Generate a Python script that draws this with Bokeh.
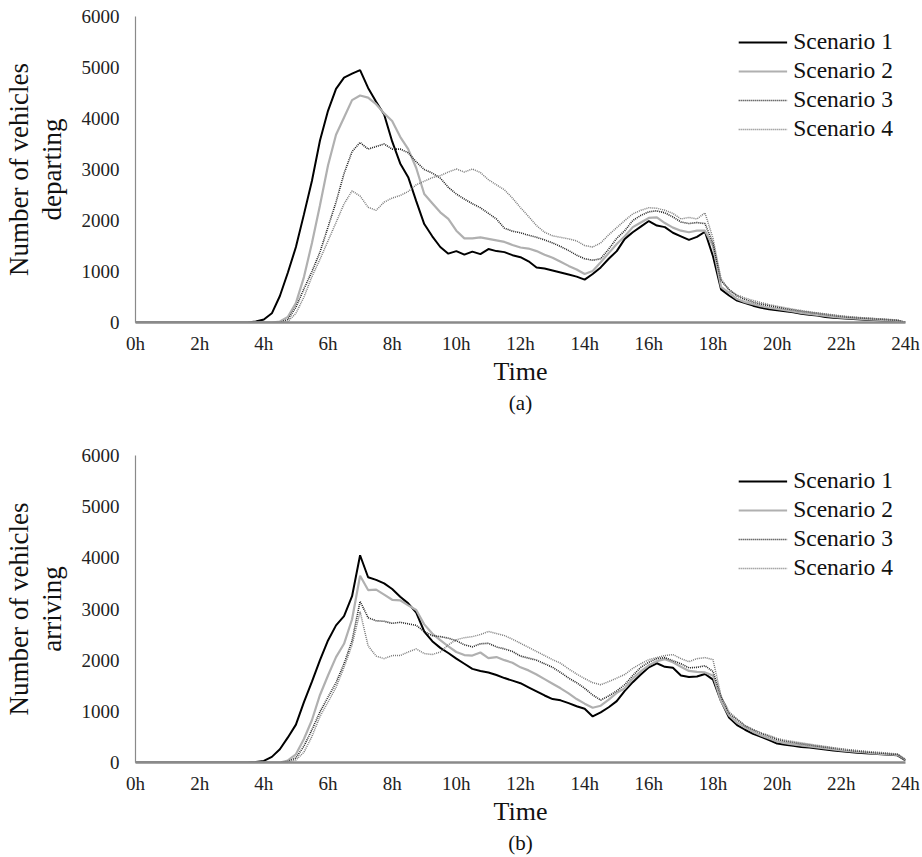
from bokeh.plotting import figure
from bokeh.layouts import column
from bokeh.models import FixedTicker, Title
from bokeh.embed import file_html
from bokeh.resources import INLINE

# time axis: quarter-hour steps 0h..24h
hours = [i / 4 for i in range(97)]
tick_hours = [0, 2, 4, 6, 8, 10, 12, 14, 16, 18, 20, 22, 24]
tick_labels = ["0h", "2h", "4h", "6h", "8h", "10h", "12h", "14h", "16h", "18h", "20h", "22h", "24h"]
y_ticks = [0, 1000, 2000, 3000, 4000, 5000, 6000]
scenario_names = ["Scenario 1", "Scenario 2", "Scenario 3", "Scenario 4"]

# (a) departing
dep_s1 = [0, 0, 0, 0,  0, 0, 0, 0,  0, 0, 0, 0,  0, 0, 0, 20,
          60, 180, 520, 980,  1480, 2120, 2780, 3570,  4150, 4580, 4800, 4880,
          4950, 4600, 4330, 4080,  3550, 3120, 2850, 2380,  1930, 1690, 1480, 1350,
          1400, 1330, 1390, 1340,  1440, 1400, 1380, 1320,  1280, 1200, 1080, 1060,
          1020, 980, 940, 900,  840, 950, 1080, 1250,  1400, 1640, 1770, 1880,
          1990, 1900, 1870, 1760,  1690, 1620, 1680, 1780,  1300, 650, 530, 430,
          380, 330, 290, 260,  240, 220, 200, 170,  150, 135, 110, 95,
          85, 75, 65, 55,  50, 40, 35, 25,  0]
dep_s2 = [0, 0, 0, 0,  0, 0, 0, 0,  0, 0, 0, 0,  0, 0, 0, 0,
          0, 0, 20, 110,  380, 890, 1560, 2300,  3080, 3680, 4020, 4360,
          4450, 4410, 4280, 4100,  3950, 3640, 3400, 3030,  2520, 2340, 2160, 2030,
          1800, 1650, 1650, 1670,  1640, 1610, 1580, 1520,  1470, 1450, 1400, 1330,
          1270, 1190, 1110, 1040,  950, 1010, 1180, 1360,  1540, 1690, 1870, 1960,
          2050, 2060, 1950, 1860,  1800, 1770, 1800, 1800,  1500, 700, 580, 460,
          400, 360, 320, 290,  265, 240, 215, 190,  170, 150, 130, 110,
          95, 85, 75, 65,  55, 50, 40, 30,  0]
dep_s3 = [0, 0, 0, 0,  0, 0, 0, 0,  0, 0, 0, 0,  0, 0, 0, 0,
          0, 0, 0, 60,  300, 660, 1000, 1380,  1870, 2360, 2920, 3350,
          3530, 3400, 3450, 3500,  3400, 3400, 3330, 3150,  3000, 2930, 2830, 2650,
          2520, 2420, 2330, 2250,  2140, 2030, 1850, 1790,  1760, 1710, 1670, 1620,
          1560, 1490, 1410, 1320,  1250, 1220, 1250, 1440,  1650, 1800, 2000, 2100,
          2170, 2190, 2150, 2070,  1970, 1940, 1960, 1940,  1550, 820, 650, 520,
          450, 400, 360, 330,  300, 270, 245, 220,  200, 180, 160, 140,
          120, 105, 95, 85,  75, 65, 55, 45,  0]
dep_s4 = [0, 0, 0, 0,  0, 0, 0, 0,  0, 0, 0, 0,  0, 0, 0, 0,
          0, 0, 0, 20,  180, 500, 900, 1240,  1600, 1960, 2326, 2580,
          2480, 2260, 2200, 2360,  2440, 2490, 2570, 2700,  2770, 2840, 2880, 2950,
          3010, 2950, 3010, 2940,  2800, 2700, 2600, 2440,  2250, 2080, 1900, 1770,
          1700, 1670, 1640, 1600,  1510, 1480, 1560, 1720,  1860, 2000, 2130, 2200,
          2250, 2240, 2200, 2140,  2030, 2060, 2030, 2150,  1650, 860, 630, 540,
          480, 430, 390, 350,  320, 290, 260, 235,  210, 190, 170, 150,
          130, 115, 100, 90,  80, 70, 60, 50,  0]

# (b) arriving
arr_s1 = [0, 0, 0, 0,  0, 0, 0, 0,  0, 0, 0, 0,  0, 0, 0, 10,
          30, 110, 260, 490,  740, 1180, 1580, 2000,  2385, 2680, 2860, 3250,
          4050, 3620, 3570, 3500,  3390, 3240, 3110, 2930,  2560, 2370, 2240, 2140,
          2030, 1930, 1830, 1790,  1760, 1710, 1650, 1600,  1550, 1470, 1390, 1310,
          1240, 1215, 1160, 1100,  1050, 900, 980, 1080,  1200, 1400, 1570, 1720,
          1860, 1940, 1870, 1850,  1700, 1670, 1680, 1730,  1620, 1200, 880, 730,
          640, 560, 500, 440,  370, 345, 325, 305,  295, 275, 255, 235,
          220, 205, 190, 180,  170, 160, 150, 140,  40]
arr_s2 = [0, 0, 0, 0,  0, 0, 0, 0,  0, 0, 0, 0,  0, 0, 0, 0,
          0, 0, 0, 40,  160, 460, 830, 1320,  1700, 2060, 2320, 2800,
          3650, 3370, 3380, 3280,  3180, 3170, 3070, 2980,  2700, 2520, 2390, 2270,
          2160, 2100, 2090, 2150,  2040, 2060, 2000, 1950,  1860, 1800, 1720, 1630,
          1540, 1450, 1350, 1240,  1150, 1070, 1110, 1230,  1360, 1450, 1640, 1780,
          1900, 1980, 2020, 1960,  1870, 1790, 1770, 1760,  1700, 1200, 920, 780,
          690, 600, 530, 470,  410, 380, 355, 335,  315, 295, 275, 255,
          235, 220, 205, 195,  180, 170, 160, 150,  50]
arr_s3 = [0, 0, 0, 0,  0, 0, 0, 0,  0, 0, 0, 0,  0, 0, 0, 0,
          0, 0, 0, 20,  90, 320, 640, 990,  1277, 1560, 1930, 2380,
          3150, 2830, 2770, 2760,  2720, 2740, 2710, 2680,  2560, 2480, 2460, 2430,
          2380, 2300, 2260, 2320,  2330, 2260, 2220, 2170,  2080, 2040, 2000, 1930,
          1860, 1760, 1650, 1560,  1450, 1320, 1220, 1300,  1400, 1520, 1700, 1860,
          1960, 2030, 2050, 1990,  1930, 1850, 1860, 1890,  1780, 1290, 960, 840,
          720, 640, 570, 510,  450, 415, 390, 365,  345, 320, 300, 280,
          260, 240, 225, 210,  195, 185, 170, 160,  50]
arr_s4 = [0, 0, 0, 0,  0, 0, 0, 0,  0, 0, 0, 0,  0, 0, 0, 0,
          0, 0, 0, 10,  50, 200, 510, 900,  1180, 1470, 1860, 2300,
          2950, 2280, 2080, 2030,  2090, 2090, 2160, 2220,  2130, 2110, 2160, 2300,
          2400, 2440, 2460, 2500,  2560, 2520, 2480, 2410,  2330, 2250, 2170, 2090,
          2010, 1940, 1830, 1730,  1640, 1560, 1520, 1580,  1650, 1720, 1840, 1930,
          2010, 2050, 2090, 2110,  2030, 1970, 2030, 2050,  2010, 1300, 990, 850,
          720, 640, 580, 530,  470, 435, 410, 385,  360, 335, 315, 290,
          270, 250, 235, 220,  205, 195, 180, 165,  60]

FONT = "Liberation Serif"
styles = [
    dict(line_color="#000000", line_width=2.0),
    dict(line_color="#b0b0b0", line_width=2.2),
    dict(line_color="#222222", line_width=1.6, line_dash="1 1"),
    dict(line_color="#7a7a7a", line_width=1.5, line_dash="1 1"),
]


def make_panel(series, ylabel, tag, height, top, bottom):
    p = figure(width=922, height=height, x_range=(0, 24), y_range=(0, 6000),
               output_backend="svg", toolbar_location=None,
               min_border_left=125, min_border_right=17,
               min_border_top=top, min_border_bottom=bottom)
    p.outline_line_color = None
    p.grid.visible = False
    p.background_fill_color = "white"
    for vals, name, st in zip(series, scenario_names, styles):
        p.line(hours, vals, legend_label=name, **st)

    xa = p.xaxis[0]
    xa.ticker = FixedTicker(ticks=tick_hours)
    xa.major_label_overrides = {t: l for t, l in zip(tick_hours, tick_labels)}
    xa.axis_label = "Time"
    ya = p.yaxis[0]
    ya.ticker = FixedTicker(ticks=y_ticks)
    ya.axis_label = ylabel
    for ax in (xa, ya):
        ax.major_tick_line_color = None
        ax.minor_tick_line_color = None
        ax.major_tick_out = 0
        ax.major_label_text_font = FONT
        ax.major_label_text_font_size = "19px"
        ax.major_label_text_color = "#222222"
        ax.axis_label_text_font = FONT
        ax.axis_label_text_font_style = "normal"
        ax.axis_label_text_color = "#111111"
        ax.axis_line_color = "#8a8a8a"
    xa.axis_label_text_font_size = "26px"
    ya.axis_label_text_font_size = "27px"
    ya.axis_label_text_line_height = 1.1
    xa.axis_line_width = 2.5
    ya.axis_line_width = 1.2
    xa.major_label_standoff = 10
    xa.axis_label_standoff = 0
    ya.major_label_standoff = 16
    ya.axis_label_standoff = 12

    p.add_layout(Title(text=tag, align="center", text_font=FONT,
                       text_font_size="21px", text_font_style="normal",
                       text_color="#111111", standoff=0, offset=0), "below")

    lg = p.legend[0]
    lg.location = "top_right"
    lg.border_line_color = None
    lg.background_fill_alpha = 0
    lg.label_text_font = FONT
    lg.label_text_font_size = "23.5px"
    lg.label_text_color = "#111111"
    lg.glyph_width = 49
    lg.glyph_height = 20
    lg.label_height = 20
    lg.label_standoff = 6
    lg.spacing = 2
    lg.padding = 4
    lg.margin = 12
    return p


p1 = make_panel([dep_s1, dep_s2, dep_s3, dep_s4], "Number of vehicles\ndeparting",
                "(a)", 428, 16, 106)
p2 = make_panel([arr_s1, arr_s2, arr_s3, arr_s4], "Number of vehicles\narriving",
                "(b)", 429, 27, 95)

layout = column(p1, p2, spacing=0)
open("out.html", "w").write(file_html(layout, INLINE))
